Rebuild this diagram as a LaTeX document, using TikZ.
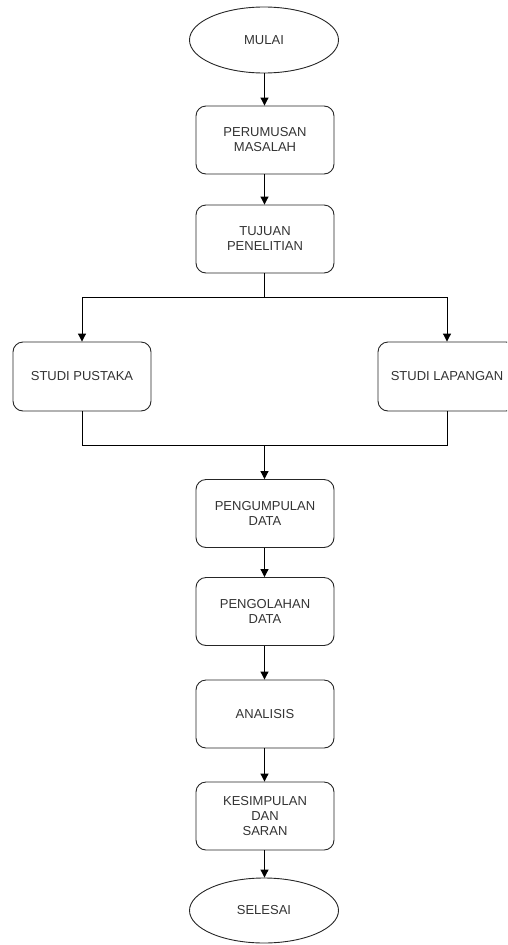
\documentclass[tikz,border=0pt]{standalone}
\usepackage{fontspec}
\setmainfont{Liberation Sans}
\usetikzlibrary{shapes.geometric,arrows.meta}
\begin{document}
\begin{tikzpicture}[x=1pt,y=-1pt,
  every node/.style={font=\fontsize{13}{15}\selectfont, text=black!80, align=center},
  term/.style={draw=black!85, ellipse, line width=0.9pt, minimum width=149pt, minimum height=66pt, inner sep=0pt},
  procbox/.style={draw=black!85, rounded corners=10pt, line width=0.9pt, minimum width=138pt, minimum height=68pt, inner sep=0pt},
  conn/.style={draw=black, line width=1pt},
  arr/.style={conn, -{Triangle[length=8pt,width=8pt]}}]
\useasboundingbox (0,0) rectangle (507,945);
\clip (0,0) rectangle (507,945);
\node[term] (mulai) at (264,40) {MULAI};
\node[procbox] (rum) at (265,140) {PERUMUSAN\\MASALAH};
\node[procbox] (tuj) at (265,239) {TUJUAN\\PENELITIAN};
\node[procbox, minimum height=69pt] (pus) at (82,376.5) {STUDI PUSTAKA};
\node[procbox, minimum height=69pt] (lap) at (447,376.5) {STUDI LAPANGAN};
\node[procbox] (kum) at (265,513.5) {PENGUMPULAN\\DATA};
\node[procbox] (olah) at (265,611.5) {PENGOLAHAN\\DATA};
\node[procbox] (ana) at (265,714) {ANALISIS};
\node[procbox] (kes) at (265,816) {KESIMPULAN\\DAN\\SARAN};
\node[term, minimum height=65pt] (sel) at (264,910.5) {SELESAI};

\coordinate (split) at (264.5,297);
\coordinate (merge) at (264.5,445);

\draw[arr] (mulai.south -| split) -- (rum.north -| split);
\draw[arr] (rum.south -| split) -- (tuj.north -| split);
\draw[conn] (tuj.south -| split) -- (split);
\draw[arr] (split) -| (pus.north);
\draw[arr] (split) -| (lap.north);
\draw[conn] (pus.south) |- (merge);
\draw[conn] (lap.south) |- (merge);
\draw[arr] (merge) -- (kum.north -| merge);
\draw[arr] (kum.south -| split) -- (olah.north -| split);
\draw[arr] (olah.south -| split) -- (ana.north -| split);
\draw[arr] (ana.south -| split) -- (kes.north -| split);
\draw[arr] (kes.south -| split) -- (sel.north -| split);
\end{tikzpicture}
\end{document}
